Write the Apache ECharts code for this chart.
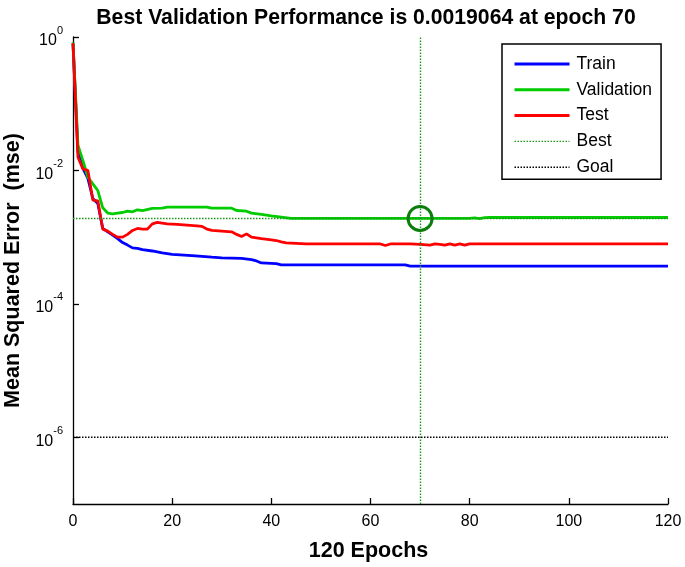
<!DOCTYPE html>
<html><head><meta charset="utf-8">
<script src="https://cdn.jsdelivr.net/npm/echarts@6/dist/echarts.min.js"></script>
<style>html,body{margin:0;padding:0;background:#fff}#c{width:685px;height:567px}</style>
</head><body><div id="c"></div>
<script>
// ---- data ----
const titleText = 'Best Validation Performance is 0.0019064 at epoch 70';
const xTicks = [0, 20, 40, 60, 80, 100, 120];
const yTickValues = [1e-6, 1e-4, 1e-2, 1];
const bestEpoch = 70;
const bestValue = 0.0019064;
const goalValue = 1e-6;

const trainEpochs = [0,1,2,3,4,5,6,7,8,9,10,11,12,13,14,16,18,20,24,28,30,34,36,37,38,41,42,67,68,120];
const trainMse = [0.79,0.019,0.0107,0.0076,0.0038,0.0032,0.00135,0.0012,0.00107,0.00095,0.00083,0.00076,0.00069,0.00068,0.00065,0.00062,0.00058,0.00055,0.00053,0.0005,0.00049,0.00048,0.00046,0.00044,0.00041,0.0004,0.000385,0.000385,0.000367,0.000367];

const valEpochs = [0,1,2,3,4,5,6,7,8,9,10,11,12,13,14,16,18,19,27,28,32,33,35,36,38,40,42,44,70,80,81,82,83,84,120];
const valMse = [0.83,0.024,0.014,0.0079,0.0063,0.005,0.00275,0.0023,0.00224,0.00229,0.00234,0.00245,0.0024,0.00257,0.0025,0.00269,0.00272,0.00282,0.00282,0.00272,0.00272,0.00251,0.00245,0.00229,0.00219,0.00209,0.002,0.0019064,0.0019064,0.0019064,0.00195,0.0019,0.00196,0.00197,0.00197];

const testEpochs = [0,1,2,3,4,5,6,7,8,9,10,11,12,13,14,15,16,17,19,21,25,26,27,28,30,32,33,34,35,36,38,40,41,42,43,47,62,63,64,68,70,72,73,74,75,76,77,78,79,80,120];
const testMse = [0.81,0.0158,0.0105,0.01,0.0036,0.0035,0.00132,0.00123,0.0011,0.001,0.001,0.0011,0.00126,0.00135,0.00132,0.00132,0.00158,0.00166,0.00158,0.00155,0.00148,0.00145,0.00132,0.00126,0.00123,0.0012,0.0011,0.00102,0.00112,0.001,0.00095,0.00091,0.00089,0.00085,0.00082,0.00079,0.00079,0.00075,0.00079,0.00079,0.00078,0.00076,0.00079,0.00078,0.00076,0.00079,0.00076,0.00079,0.00076,0.00079,0.00079];

const pairs = (xs, ys) => xs.map((x, i) => [x, ys[i]]);

const chart = echarts.init(document.getElementById('c'), null, {renderer: 'canvas'});
const FONT = 'Liberation Sans, Arial, sans-serif';
const dotted = [1.5, 1.5];

chart.setOption({
  animation: false,
  backgroundColor: '#ffffff',
  textStyle: {fontFamily: FONT},
  title: {
    text: titleText, left: 361, top: 3, textAlign: 'center',
    textStyle: {fontSize: 21.2, fontWeight: 'bold', color: '#000', fontFamily: FONT}
  },
  grid: {left: 73, right: 17, top: 37, bottom: 63, containLabel: false, outerBoundsMode: 'none'},
  legend: {
    orient: 'vertical', left: 502, top: 44,
    data: [
      {name: 'Train', lineStyle: {width: 3}},
      {name: 'Validation', lineStyle: {width: 3}},
      {name: 'Test', lineStyle: {width: 3}},
      {name: 'Best', lineStyle: {width: 1.4}},
      {name: 'Goal', lineStyle: {width: 1.4}}
    ],
    itemWidth: 55, itemHeight: 14, itemGap: 7.8,
    padding: [11, 9, 3, 11],
    borderColor: '#000', borderWidth: 1.5, backgroundColor: '#fff',
    itemStyle: {opacity: 0},
    textStyle: {fontSize: 17.5, color: '#000', fontFamily: FONT, padding: [0, 0, 0, 2]},
    selectedMode: false
  },
  xAxis: {
    type: 'value', min: 0, max: 120, interval: 20,
    name: '120 Epochs', nameLocation: 'middle', nameGap: 36,
    nameTextStyle: {fontSize: 21.5, fontWeight: 'bold', color: '#000', fontFamily: FONT, padding: [0, 4, 0, 0]},
    axisLine: {lineStyle: {color: '#000', width: 1.3}},
    axisTick: {inside: true, length: 6, lineStyle: {color: '#000', width: 1.3}},
    axisLabel: {fontSize: 16, color: '#000', margin: 10, fontFamily: FONT,
      customValues: xTicks},
    splitLine: {show: false}
  },
  yAxis: {
    type: 'log', logBase: 10, min: 1e-7, max: 1,
    name: 'Mean Squared Error  (mse)', nameLocation: 'middle', nameGap: 44, nameRotate: 90,
    nameTextStyle: {fontSize: 21.5, fontWeight: 'bold', color: '#000', fontFamily: FONT},
    axisLine: {show: true, lineStyle: {color: '#000', width: 1.3}},
    axisTick: {show: true, inside: true, length: 6, lineStyle: {color: '#000', width: 1.3},
      customValues: yTickValues},
    axisLabel: {
      customValues: yTickValues, margin: 10,
      formatter: v => '{b|10}{s|' + Math.round(Math.log10(v)) + '}',
      rich: {
        b: {fontSize: 16, color: '#000', fontFamily: FONT, verticalAlign: 'bottom', lineHeight: 24},
        s: {fontSize: 11, color: '#000', fontFamily: FONT, verticalAlign: 'top', lineHeight: 24}
      }
    },
    splitLine: {show: false}
  },
  series: [
    {name: 'Train', type: 'line', data: pairs(trainEpochs, trainMse), symbol: 'none',
      lineStyle: {color: '#0000ff', width: 2.8}, itemStyle: {color: '#0000ff'}, z: 4},
    {name: 'Validation', type: 'line', data: pairs(valEpochs, valMse), symbol: 'none',
      lineStyle: {color: '#00cc00', width: 2.8}, itemStyle: {color: '#00cc00'}, z: 4},
    {name: 'Test', type: 'line', data: pairs(testEpochs, testMse), symbol: 'none',
      lineStyle: {color: '#ff0000', width: 2.8}, itemStyle: {color: '#ff0000'}, z: 4},
    {name: 'Best', type: 'line', data: [[0, bestValue], [120, bestValue]], symbol: 'none',
      lineStyle: {color: '#1a9a1a', width: 1.4, type: dotted}, itemStyle: {color: '#1a9a1a'}, z: 5,
      markLine: {silent: true, symbol: 'none', label: {show: false},
        lineStyle: {color: '#1a9a1a', width: 1.4, type: dotted},
        data: [{xAxis: bestEpoch}]}},
    {name: 'Goal', type: 'line', data: [[0, goalValue], [120, goalValue]], symbol: 'none',
      lineStyle: {color: '#000', width: 1.4, type: dotted}, itemStyle: {color: '#000'}, z: 5},
    {name: 'BestPoint', type: 'scatter', data: [[bestEpoch, bestValue]], symbol: 'circle', symbolSize: 24,
      itemStyle: {color: 'rgba(0,0,0,0)', borderColor: '#0a7d0a', borderWidth: 3, opacity: 1}, z: 6, silent: true}
  ]
});
</script></body></html>
